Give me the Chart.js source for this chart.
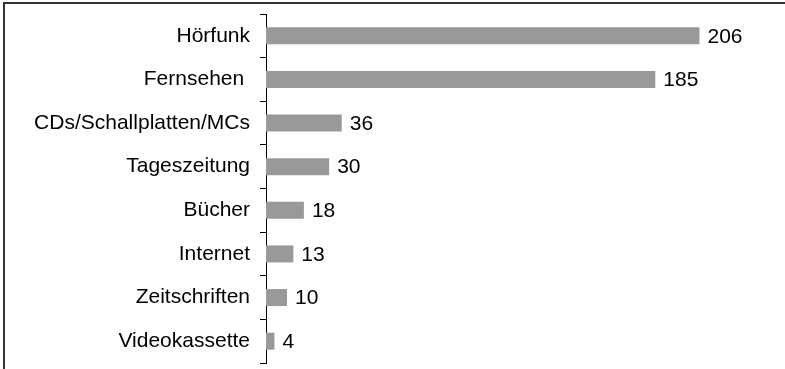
<!DOCTYPE html>
<html>
<head>
<meta charset="utf-8">
<script src="https://cdn.jsdelivr.net/npm/chart.js@4"></script>
<style>
  html, body { margin: 0; padding: 0; background: #fff; }
  #wrap { width: 785px; height: 369px; position: relative; }
</style>
</head>
<body>
<div id="wrap"><canvas id="myChart" width="785" height="369"></canvas></div>
<script>
// media and usage values
var categories = ["Hörfunk", "Fernsehen ", "CDs/Schallplatten/MCs", "Tageszeitung", "Bücher", "Internet", "Zeitschriften", "Videokassette"];
var values = [206, 185, 36, 30, 18, 13, 10, 4];

var fontFamily = "'Liberation Sans', Arial, sans-serif";

// value text right of every bar
var valueLabels = {
  id: "valueLabels",
  afterDatasetsDraw: function (chart) {
    var ctx = chart.ctx;
    var meta = chart.getDatasetMeta(0);
    ctx.save();
    ctx.font = "21px " + fontFamily;
    ctx.fillStyle = "#000";
    ctx.textAlign = "left";
    ctx.textBaseline = "middle";
    meta.data.forEach(function (bar, i) {
      ctx.fillText(String(values[i]), bar.x + 8, bar.y + 1);
    });
    ctx.restore();
  }
};

// frame lines at top and left
var frame = {
  id: "frame",
  beforeDraw: function (chart) {
    var ctx = chart.ctx;
    ctx.save();
    ctx.strokeStyle = "#333";
    ctx.lineWidth = 2;
    ctx.beginPath();
    ctx.moveTo(4, 369);
    ctx.lineTo(4, 3);
    ctx.lineTo(785, 3);
    ctx.stroke();
    ctx.restore();
  }
};

var ctx = document.getElementById("myChart").getContext("2d");
var myChart = new Chart(ctx, {
  type: "bar",
  data: {
    labels: categories,
    datasets: [{
      data: values,
      backgroundColor: "#999999",
      borderWidth: 0,
      barPercentage: 0.39,
      categoryPercentage: 1
    }]
  },
  options: {
    indexAxis: "y",
    responsive: false,
    animation: false,
    layout: { padding: { top: 14, bottom: 6, left: 0, right: 14 } },
    plugins: {
      legend: { display: false },
      tooltip: { enabled: false }
    },
    scales: {
      x: {
        display: false,
        min: 0,
        max: 240
      },
      y: {
        afterFit: function (scale) {
          scale.width = 266;
          scale.paddingTop = 0;
          scale.paddingBottom = 0;
        },
        border: { display: true, color: "#000", width: 1 },
        grid: {
          offset: true,
          drawOnChartArea: false,
          drawTicks: true,
          tickLength: 6,
          color: "#000"
        },
        ticks: {
          color: "#000",
          padding: 10,
          font: { family: fontFamily, size: 21 }
        }
      }
    }
  },
  plugins: [valueLabels, frame]
});
</script>
</body>
</html>
